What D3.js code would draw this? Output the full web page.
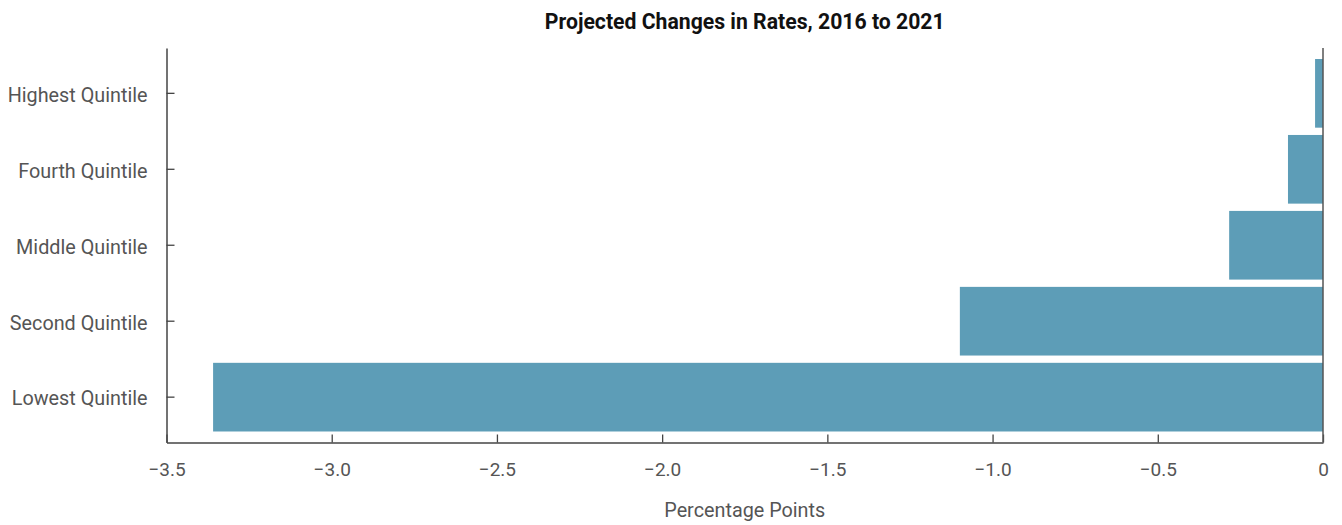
<!DOCTYPE html>
<html>
<head>
<meta charset="utf-8">
<script src="https://cdn.jsdelivr.net/npm/d3@7"></script>
<style>
  body { margin: 0; background: #fff; }
  text { font-family: Roboto, "Noto Sans", sans-serif; }
</style>
</head>
<body>
<script>
// quintiles, top to bottom
var categories = ['Highest Quintile', 'Fourth Quintile', 'Middle Quintile', 'Second Quintile', 'Lowest Quintile'];
// projected change, percentage points
var changes = [-0.024, -0.106, -0.284, -1.099, -3.359];
var xTicks = [-3.5, -3.0, -2.5, -2.0, -1.5, -1.0, -0.5, 0];

var width = 1342, height = 525;
var plotLeft = 166.5, plotRight = 1323, plotTop = 48, plotBottom = 442.5;

var svg = d3.select('body').append('svg').attr('width', width).attr('height', height);

var x = d3.scaleLinear().domain([-3.5, 0]).range([plotLeft, plotRight]);
var y = d3.scaleBand().domain(categories).range([plotTop, plotBottom]).paddingInner(0.096).paddingOuter(0.145);

// bars
svg.selectAll('rect.bar').data(categories).enter().append('rect')
  .attr('class', 'bar')
  .attr('x', function(d, i) { return x(changes[i]); })
  .attr('y', function(d) { return y(d); })
  .attr('width', function(d, i) { return x(0) - x(changes[i]); })
  .attr('height', y.bandwidth())
  .attr('fill', '#5d9db7');

// x axis, ticks pointing inward
var xAxis = svg.append('g').attr('transform', 'translate(0,' + plotBottom + ')')
  .call(d3.axisBottom(x).tickValues(xTicks).tickSizeInner(-8).tickSizeOuter(0)
    .tickFormat(function(d) { return d === 0 ? '0' : d3.format('.1f')(d).replace('-', '\u2212'); }));
xAxis.select('.domain').attr('stroke', '#444').attr('stroke-width', 1.5);
xAxis.selectAll('.tick line').attr('stroke', '#444').attr('stroke-width', 1.3);
xAxis.selectAll('.tick text').attr('y', 20).attr('font-size', 19).attr('fill', '#555');

// y axis
var yAxis = svg.append('g').attr('transform', 'translate(' + plotLeft + ',0)')
  .call(d3.axisLeft(y).tickSizeInner(-8).tickSizeOuter(0));
yAxis.select('.domain').attr('stroke', '#444').attr('stroke-width', 1.5);
yAxis.selectAll('.tick line').attr('stroke', '#444').attr('stroke-width', 1.3);
yAxis.selectAll('.tick text').attr('x', -19).attr('y', 2).attr('font-size', 19.8).attr('fill', '#555');

// zero line
svg.append('line')
  .attr('x1', x(0)).attr('x2', x(0)).attr('y1', plotTop).attr('y2', plotBottom)
  .attr('stroke', '#555').attr('stroke-width', 1.5);

// title and axis title
svg.append('text')
  .attr('x', (plotLeft + plotRight) / 2).attr('y', 29)
  .attr('text-anchor', 'middle').attr('font-size', 21.2).attr('font-weight', 'bold').attr('fill', '#111')
  .text('Projected Changes in Rates, 2016 to 2021');

svg.append('text')
  .attr('x', (plotLeft + plotRight) / 2).attr('y', 517)
  .attr('text-anchor', 'middle').attr('font-size', 19.8).attr('fill', '#555')
  .text('Percentage Points');
</script>
</body>
</html>
